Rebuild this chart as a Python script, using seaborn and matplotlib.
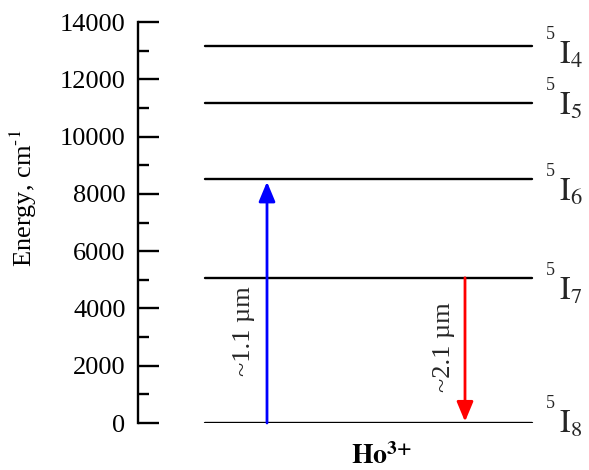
import matplotlib
matplotlib.use("Agg")
import matplotlib.pyplot as plt
import seaborn as sns
import pandas as pd

# ---- data ----
levels = ["5I8", "5I7", "5I6", "5I5", "5I4"]
level_terms = [r"$\mathrm{I}_{8}$", r"$\mathrm{I}_{7}$", r"$\mathrm{I}_{6}$",
               r"$\mathrm{I}_{5}$", r"$\mathrm{I}_{4}$"]
level_mult = ["5", "5", "5", "5", "5"]
energies = [0, 5070, 8520, 11170, 13160]
y_ticks = [0, 2000, 4000, 6000, 8000, 10000, 12000, 14000]
arrow_labels = ["~1.1 µm", "~2.1 µm"]
ion_label = r"$\mathbf{Ho}^{\mathbf{3}\mathbf{{+}}}$"

# ---- style ----
sns.set_theme(style="ticks")
plt.rcParams["font.family"] = ["Liberation Serif", "DejaVu Serif"]
plt.rcParams["mathtext.fontset"] = "stix"

fig = plt.figure(figsize=(5.89, 4.70), dpi=100)
ax = fig.add_axes([138 / 589, 47 / 470, 451 / 589, 401 / 470])

x_start, x_end = 67, 394
df = pd.DataFrame({
    "level": [l for l in levels for _ in range(2)],
    "x": [x for _ in levels for x in (x_start, x_end)],
    "E": [e for e in energies for _ in range(2)],
})
sns.lineplot(data=df, x="x", y="E", units="level", estimator=None,
             color="black", lw=1.7, ax=ax, legend=False)

ax.set_xlim(0, 451)
ax.set_ylim(0, 14000)
ax.set_yticks(y_ticks)
ax.set_yticks(range(1000, 14000, 2000), minor=True)
ax.tick_params(axis="y", which="major", direction="in", length=15, width=1.7,
               labelsize=19, pad=9, color="black", labelcolor="black")
ax.tick_params(axis="y", which="minor", direction="in", length=8, width=1.7, color="black")
ax.set_xticks([])
for s in ["top", "right", "bottom"]:
    ax.spines[s].set_visible(False)
ax.spines["left"].set_linewidth(1.7)
ax.spines["left"].set_color("black")

ax.set_ylabel(r"Energy, cm$^{\text{-}1}$", fontsize=19, color="black")
ax.yaxis.set_label_coords(-0.22, 0.56)
ax.set_xlabel(ion_label, fontsize=20, color="black")
ax.xaxis.set_label_coords(0.54, -0.05)

# arrows
x_up, x_down = 129, 327
ax.annotate("", xy=(x_up, energies[2]), xytext=(x_up, energies[0]),
            arrowprops=dict(arrowstyle="-|>,head_length=0.6,head_width=0.25",
                            color="blue", lw=2, mutation_scale=20, shrinkA=0, shrinkB=2))
ax.annotate("", xy=(x_down, energies[0]), xytext=(x_down, energies[1]),
            arrowprops=dict(arrowstyle="-|>,head_length=0.6,head_width=0.25",
                            color="red", lw=2, mutation_scale=20, shrinkA=0, shrinkB=1))
ax.text(106, 3210, arrow_labels[0], rotation=90, ha="center", va="center", fontsize=19)
ax.text(306, 2650, arrow_labels[1], rotation=90, ha="center", va="center", fontsize=19)

# level labels: baseline offsets (points) of the "I" relative to the level line
label_dy = [-7.2, -15.8, -15.8, -8.6, -13.0]
for term, mult, e, dy in zip(level_terms, level_mult, energies, label_dy):
    ax.annotate(term, xy=(421, e), xytext=(0, dy), textcoords="offset points",
                ha="left", va="baseline", fontsize=23)
    ax.annotate(mult, xy=(408, e), xytext=(0, dy + 18), textcoords="offset points",
                ha="left", va="baseline", fontsize=13)

fig.savefig("out.png", dpi=100)
